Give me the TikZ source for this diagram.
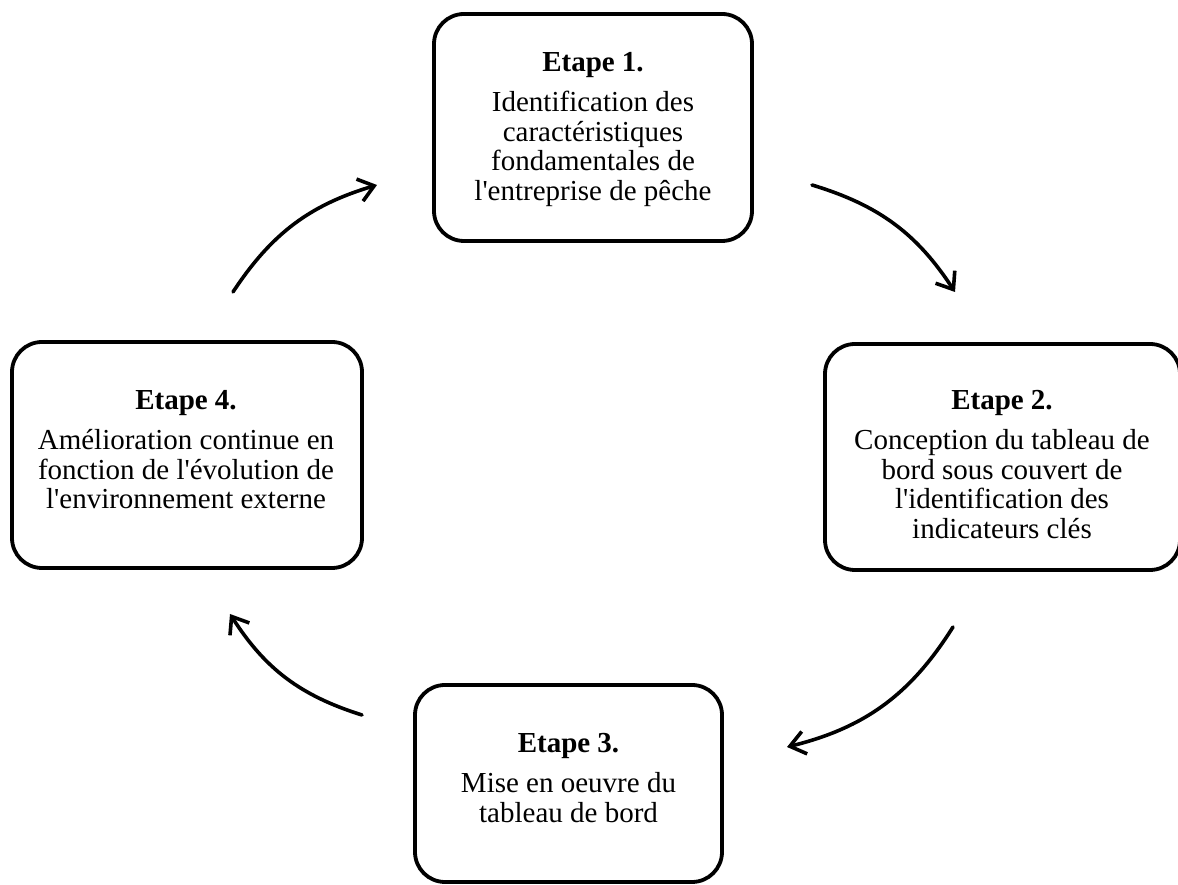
\documentclass[tikz,border=0pt]{standalone}
\usepackage{fontspec}
\setmainfont{Liberation Serif}
\usetikzlibrary{arrows.meta}
\newcommand{\ttl}[1]{\rule{0pt}{21pt}{\bfseries #1}}
\newcommand{\ap}{\textquotesingle}
\begin{document}
\begin{tikzpicture}[x=1pt,y=1pt,
  stepbox/.style={draw=black, line width=3.8pt, rounded corners=30pt, fill=white,
    inner sep=0pt, outer sep=0pt},
  steptext/.style={align=center, inner sep=0pt, outer sep=0pt, anchor=north,
    font=\fontsize{29}{29.5}\selectfont},
  cyc/.style={line width=3.6pt, line cap=round,
    -{Straight Barb[length=15pt,width=23pt,line width=3.6pt]}}]
\useasboundingbox (0,0) rectangle (1178,885);
% boxes (centres in TikZ coordinates, y up)
\node[stepbox, minimum width=318pt, minimum height=227pt] (e1) at (593,757.5) {};
\node[stepbox, minimum width=355pt, minimum height=226pt] (e2) at (1002.5,428) {};
\node[stepbox, minimum width=307pt, minimum height=197pt] (e3) at (568.5,101.5) {};
\node[stepbox, minimum width=350pt, minimum height=226pt] (e4) at (187,430) {};
% texts: north = title baseline + 21pt
\node[steptext] (t1) at (593,834)
  {\ttl{Etape 1.}\\[10.5pt]Identification des\\caractéristiques\\fondamentales de\\l\ap entreprise de pêche};
\node[steptext] (t2) at (1002,496)
  {\ttl{Etape 2.}\\[10.5pt]Conception du tableau de\\bord sous couvert de\\l\ap identification des\\indicateurs clés};
\node[steptext] (t3) at (568.5,153)
  {\ttl{Etape 3.}\\[10.5pt]Mise en oeuvre du\\tableau de bord};
\node[steptext] (t4) at (186,496)
  {\ttl{Etape 4.}\\[10.5pt]Amélioration continue en\\fonction de l\ap évolution de\\l\ap environnement externe};
% cycle arrows
\coordinate (a1s) at (233,593);
\coordinate (a1e) at (377,700);
\coordinate (a2s) at (812,700);
\coordinate (a2e) at (955,593);
\coordinate (a3s) at (953,258);
\coordinate (a3e) at (787,138);
\coordinate (a4s) at (362,170);
\coordinate (a4e) at (230,271);
\draw[cyc] (a1s) to[bend left=20] (a1e);
\draw[cyc] (a2s) to[bend left=20] (a2e);
\draw[cyc] (a3s) to[bend left=22] (a3e);
\draw[cyc] (a4s) to[bend left=20] (a4e);
\end{tikzpicture}
\end{document}
